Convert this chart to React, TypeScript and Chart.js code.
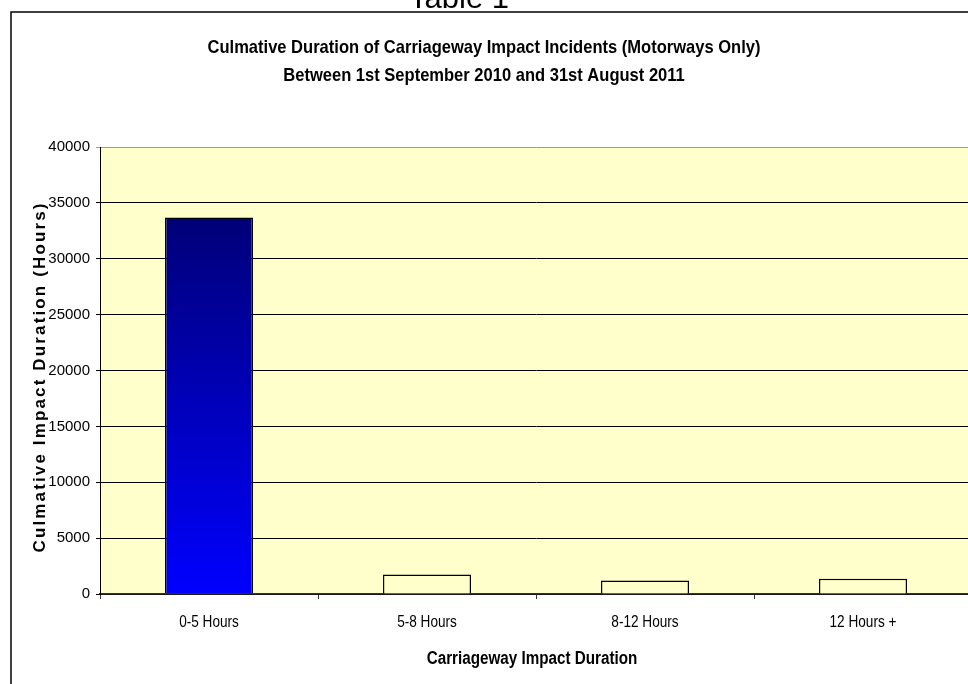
import React, { useEffect, useRef } from "react";
import { Chart, registerables } from "chart.js";

Chart.register(...registerables);

const categories: string[] = ["0-5 Hours", "5-8 Hours", "8-12 Hours", "12 Hours +"];
const durationHours: number[] = [33700, 1750, 1200, 1360];
const yMin = 0;
const yMax = 40000;
const yStep = 5000;
const chartTitleLines: string[] = [
  "Culmative Duration of Carriageway Impact Incidents (Motorways Only)",
  "Between 1st September 2010 and 31st August 2011",
];
const pageHeading = "Table 1";
const xAxisTitle = "Carriageway Impact Duration";
const yAxisTitle = "Culmative Impact Duration (Hours)";

const PLOT_BG = "#FFFFCC";
const FONT = "'Liberation Sans', Arial, sans-serif";

function condensedText(ctx: any, text: string, x: number, y: number, sx: number) {
  ctx.save();
  ctx.translate(x, y);
  ctx.scale(sx, 1);
  ctx.fillText(text, 0, 0);
  ctx.restore();
}

const decorPlugin = {
  id: "decor",
  beforeDraw(chart: any) {
    const { ctx, chartArea } = chart;
    ctx.save();
    ctx.fillStyle = "#ffffff";
    ctx.fillRect(0, 0, chart.width, chart.height);
    ctx.fillStyle = PLOT_BG;
    ctx.fillRect(chartArea.left, chartArea.top, chartArea.right - chartArea.left, chartArea.bottom - chartArea.top);
    ctx.restore();
  },
  afterDraw(chart: any) {
    const { ctx } = chart;
    ctx.save();
    // outer frame
    ctx.strokeStyle = "#000";
    ctx.lineWidth = 1.5;
    ctx.beginPath();
    ctx.moveTo(11, chart.height + 5);
    ctx.lineTo(11, 12);
    ctx.lineTo(chart.width + 5, 12);
    ctx.stroke();

    // page heading (cut off at top)
    ctx.fillStyle = "#000";
    ctx.textAlign = "center";
    ctx.textBaseline = "alphabetic";
    ctx.font = "31px " + FONT;
    ctx.fillText(pageHeading, 459, 8);

    // chart title
    ctx.font = "bold 19px " + FONT;
    condensedText(ctx, chartTitleLines[0], 484, 53, 0.87);
    condensedText(ctx, chartTitleLines[1], 484, 81, 0.87);

    // x category labels, positioned by the category scale
    const xs = chart.scales.x;
    ctx.font = "16px " + FONT;
    ctx.textBaseline = "middle";
    const labels: string[] = chart.data.labels;
    labels.forEach((lab: string, i: number) => {
      condensedText(ctx, lab, xs.getPixelForValue(i), xs.top + 29, 0.85);
    });

    // x axis title
    ctx.font = "bold 17.5px " + FONT;
    condensedText(ctx, xAxisTitle, 532, 659, 0.87);

    // y axis title with letter spacing
    ctx.font = "bold 17px " + FONT;
    ctx.textBaseline = "middle";
    const plain = ctx.measureText(yAxisTitle).width;
    const target = 351;
    const spacing = Math.max(0, (target - plain) / yAxisTitle.length);
    (ctx as any).letterSpacing = spacing.toFixed(2) + "px";
    ctx.translate(40, 378);
    ctx.rotate(-Math.PI / 2);
    ctx.fillText(yAxisTitle, spacing / 2, 0);
    ctx.restore();
  },
};

export default function App() {
  const canvasRef = useRef<HTMLCanvasElement | null>(null);

  useEffect(() => {
    const canvas = canvasRef.current;
    if (!canvas) return;
    const chart = new Chart(canvas, {
      type: "bar",
      data: {
        labels: categories,
        datasets: [
          {
            label: "Duration",
            data: durationHours,
            backgroundColor: (context: any) => {
              const ch = context.chart;
              if (context.dataIndex !== 0) return PLOT_BG;
              const ys = ch.scales && ch.scales.y;
              if (!ys || !ch.chartArea) return "#0000CC";
              const top = ys.getPixelForValue(durationHours[0]);
              const bottom = ys.getPixelForValue(0);
              const g = ch.ctx.createLinearGradient(0, top, 0, bottom);
              g.addColorStop(0, "#000078");
              g.addColorStop(1, "#0000FF");
              return g;
            },
            borderColor: "#000000",
            borderWidth: 1.5,
            barPercentage: 0.404,
            categoryPercentage: 1,
          },
        ],
      },
      options: {
        responsive: false,
        animation: false,
        devicePixelRatio: 1,
        layout: { padding: { top: 147, left: 0, right: 8, bottom: 0 } },
        plugins: {
          legend: { display: false },
          title: { display: false },
          tooltip: { enabled: false },
        },
        scales: {
          x: {
            offset: true,
            afterFit: (scale: any) => {
              scale.height = 106;
            },
            grid: {
              display: true,
              offset: true,
              drawOnChartArea: false,
              drawTicks: true,
              tickLength: 5,
              color: "#333",
            },
            border: { display: true, color: "#333", width: 1.5 },
            ticks: { display: false },
            title: { display: false },
          },
          y: {
            min: yMin,
            max: yMax,
            afterFit: (scale: any) => {
              scale.width = 100;
            },
            grid: {
              color: (c: any) => (c.tick && c.tick.value === yMax ? "#999999" : "#000000"),
              lineWidth: 1,
              drawTicks: true,
              tickLength: 4,
            },
            border: { display: true, color: "#000", width: 1 },
            ticks: {
              stepSize: yStep,
              color: "#000",
              padding: 6,
              font: { family: FONT, size: 15 },
              callback: (v: any) => String(v),
            },
            title: { display: false },
          },
        },
      },
      plugins: [decorPlugin],
    });
    return () => chart.destroy();
  }, []);

  return (
    <div
      style={{
        position: "fixed",
        left: 0,
        top: 0,
        width: 968,
        height: 684,
        overflow: "hidden",
        background: "#fff",
      }}
    >
      <canvas ref={canvasRef} width={980} height={700} style={{ width: 980, height: 700, display: "block" }} />
    </div>
  );
}
